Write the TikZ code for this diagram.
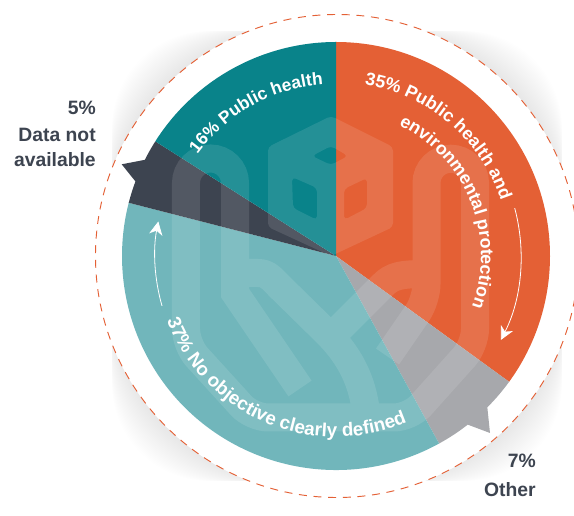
\documentclass[tikz,border=0pt]{standalone}
\usepackage{fontspec}
\setmainfont{Liberation Sans}
\usetikzlibrary{arrows.meta, decorations.text}

\definecolor{tealDark}{HTML}{09838A}
\definecolor{tealLight}{HTML}{71B6BB}
\definecolor{sliceOrange}{HTML}{E46035}
\definecolor{sliceGray}{HTML}{A7A8AC}
\definecolor{sliceInk}{HTML}{3D4450}

\tikzset{
  sideLabel/.style={font=\fontsize{14.5}{20}\selectfont\bfseries, text=sliceInk, align=right, inner sep=0pt},
  ringArrow/.style={white, line width=0.6pt, -{Stealth[length=10pt, width=10pt, inset=3pt]}},
  arcText/.style={decorate, decoration={text along path, text align=center, text={#1}}},
}
\newcommand{\arcfont}{|\fontsize{13.4}{16}\selectfont\bfseries\color{white}|}
\newcommand{\arcfontsmall}{|\fontsize{13.1}{16}\selectfont\bfseries\color{white}|}
\newcommand{\arcfontwide}{|\fontsize{14.1}{16}\selectfont\bfseries\color{white}|}

\begin{document}
\begin{tikzpicture}[x=0.75pt, y=0.75pt]
  \clip (-336,-260) rectangle (238,256);
  \useasboundingbox (-336,-260) rectangle (238,256);
  \fill[white] (-336,-260) rectangle (238,256);

  % soft shadow behind the ring
  \foreach \i in {0,...,23} {
    \pgfmathsetmacro{\cornerR}{(97+3.75*\i)*0.75}
    \fill[black, opacity=0.0045, rounded corners=\cornerR pt] (-224,-225) rectangle (226,225);
  }
  \fill[white] (1,0) circle (241.5);
  \draw[sliceOrange, line width=0.7pt, dash pattern=on 6pt off 5pt] (1,0) circle (241.5);

  % slices
  \fill[sliceOrange] (0,0) -- (90:214) arc[start angle=90, end angle=-36, radius=214] -- cycle;
  \fill[sliceGray] (0,0) -- (-36:214) arc[start angle=-36, end angle=-45, radius=214]
    -- (154,-177) -- (-52:214) arc[start angle=-52, end angle=-61.2, radius=214] -- cycle;
  \fill[tealLight] (0,0) -- (-61.2:214) arc[start angle=-61.2, end angle=-194.4, radius=214] -- cycle;
  \fill[sliceInk] (0,0) -- (165.6:214) arc[start angle=165.6, end angle=159.6, radius=214]
    -- (-214.3,91.7) -- (153.3:214) arc[start angle=153.3, end angle=147.6, radius=214] -- cycle;
  \fill[tealDark] (0,0) -- (147.6:214) arc[start angle=147.6, end angle=90, radius=214] -- cycle;

  % logo, in pixel positions of the sheet
  \begin{scope}[shift={(-336,256)}, y=-0.75pt]
    \fill[white, opacity=0.11, even odd rule, rounded corners=3pt]
      (331,116) -- (393,147) -- (393,227) -- (331,256) -- (268,227) -- (268,147) -- cycle
      (312,156) -- (331,146) -- (348,156) -- (331,165) -- cycle
      (292,177) -- (317,188) -- (317,220) -- (293,208) -- cycle
      (344,189) -- (367,178) -- (367,208) -- (344,220) -- cycle;
    \draw[white, opacity=0.11, line width=21pt]
      (300,388.5) -- (235,293) -- (235,183) arc[start angle=0, end angle=-180, radius=24.5]
      [rounded corners=12pt] -- (186,345) -- (252,417.5) -- (410,417.5) -- (475,345) [sharp corners] -- (475,183)
      arc[start angle=0, end angle=-180, radius=24.25] [rounded corners=12pt] -- (426.5,300) -- (387.5,356.5) [sharp corners]
      (235,273) -- (258,273) .. controls (268,273) and (272,279) .. (280,287) -- (326,332)
      .. controls (350,356) and (367,385) .. (367,431)
      (340,328) -- (383,285) .. controls (392,276) and (400,274) .. (426.5,274);
  \end{scope}

  % curved texts
  \path[arcText={\arcfontsmall 16{\%} Public health}] (146:172) arc[start angle=146, end angle=92, radius=172];
  \path[arcText={\arcfont 35{\%} Public health and}] (83:174) arc[start angle=83, end angle=16, radius=174];
  \path[arcText={\arcfont environmental protection}] (66:145) arc[start angle=66, end angle=-22, radius=145];
  \path[arcText={\arcfontwide 37{\%} No objective clearly defined}] (196:181) arc[start angle=196, end angle=298, radius=181];

  % running arrows
  \draw[ringArrow] (15:185) arc[start angle=15, end angle=-27, radius=185];
  \draw[ringArrow] (196:181) arc[start angle=196, end angle=169, radius=181];

  % side labels
  \node[sideLabel, anchor=base east] (pctNoData) at (-240,141) {5\%};
  \node[sideLabel, anchor=base east] (lblNoData) at (-240,114) {Data not};
  \node[sideLabel, anchor=base east] (lblNoData2) at (-240,89) {available};
  \node[sideLabel, anchor=base east] (pctOther) at (200,-212) {7\%};
  \node[sideLabel, anchor=base east] (lblOther) at (200,-240) {Other};
\end{tikzpicture}
\end{document}
